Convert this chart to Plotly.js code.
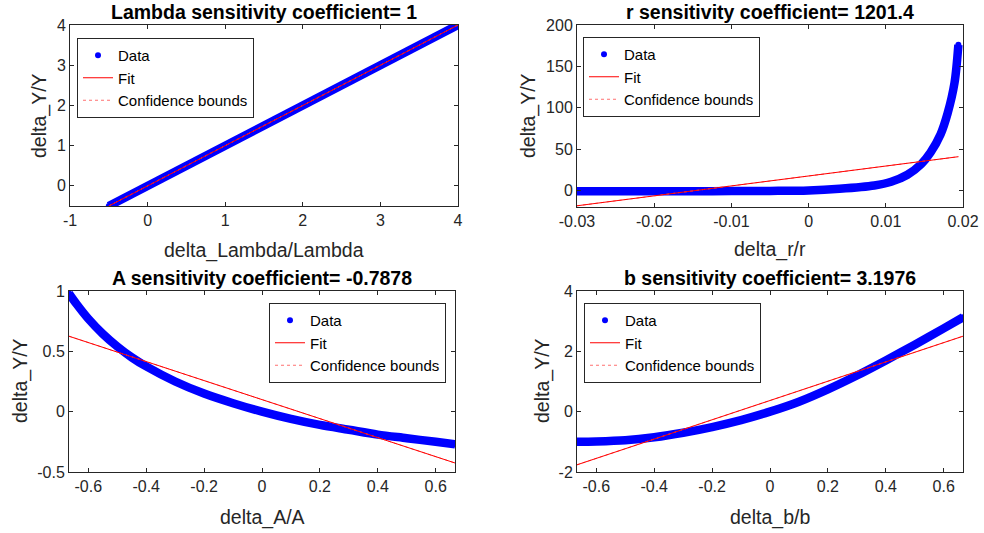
<!DOCTYPE html>
<html>
<head>
<meta charset="utf-8">
<script src="https://cdn.plot.ly/plotly-3.0.1.min.js"></script>
<style>
  html, body { margin: 0; padding: 0; background: #ffffff; }
  #chart { width: 984px; height: 533px; }
</style>
</head>
<body>
<div id="chart"></div>
<script>
// Relative parameter change (x) against relative change of the output Y (y)
const lambdaX = [-0.5, 0, 0.5, 1, 1.5, 2, 2.5, 3, 3.5, 4];
const lambdaY = [-0.5, 0, 0.5, 1, 1.5, 2, 2.5, 3, 3.5, 4];

const rX = [-0.03, -0.025, -0.02, -0.015, -0.01, -0.005, 0, 0.004, 0.0085, 0.0107, 0.0128, 0.0146, 0.0158, 0.0171, 0.018, 0.0189, 0.0194];
const rY = [-0.95, -0.93, -0.9, -0.85, -0.75, -0.55, 0, 2, 6, 10.5, 19, 32, 46, 68, 93, 130, 176];

const aX = [-0.667, -0.64, -0.6, -0.55, -0.5, -0.45, -0.4, -0.3, -0.2, -0.1, 0, 0.1, 0.2, 0.3, 0.4, 0.5, 0.6, 0.667];
const aY = [0.98, 0.89, 0.77, 0.645, 0.54, 0.45, 0.375, 0.25, 0.15, 0.07, 0, -0.06, -0.11, -0.15, -0.19, -0.22, -0.25, -0.27];

const bX = [-0.667, -0.6, -0.5, -0.4, -0.3, -0.2, -0.1, 0, 0.1, 0.2, 0.3, 0.4, 0.5, 0.6, 0.667];
const bY = [-1.0, -0.99, -0.95, -0.85, -0.70, -0.51, -0.28, 0, 0.33, 0.74, 1.20, 1.70, 2.22, 2.76, 3.13];

// Linear fits: slope = sensitivity coefficient, plus intercept
const slopes = [1, 1201.4, -0.7878, 3.1976];
const intercepts = [0, 17.5, 0.10, 0.37];

// Panel labels
const paramNames = ["Lambda", "r", "A", "b"];
const xLabels = ["delta_Lambda/Lambda", "delta_r/r", "delta_A/A", "delta_b/b"];
const yLabel = "delta_Y/Y";

// Axis ranges and ticks
const xRanges = [[-1, 4], [-0.03, 0.02], [-0.6667, 0.6667], [-0.6667, 0.6667]];
const yRanges = [[-0.5, 4], [-20, 200], [-0.5, 1], [-2, 4]];
const xTicks = [
  [-1, 0, 1, 2, 3, 4],
  [-0.03, -0.02, -0.01, 0, 0.01, 0.02],
  [-0.6, -0.4, -0.2, 0, 0.2, 0.4, 0.6],
  [-0.6, -0.4, -0.2, 0, 0.2, 0.4, 0.6]
];
const yTicks = [
  [0, 1, 2, 3, 4],
  [0, 50, 100, 150, 200],
  [-0.5, 0, 0.5, 1],
  [-2, 0, 2, 4]
];

const seriesX = [lambdaX, rX, aX, bX];
const seriesY = [lambdaY, rY, aY, bY];

// ---- page geometry (pixels of the 984 x 533 figure) ----
const W = 984, H = 533;
const px = v => v / W;
const py = v => 1 - v / H;
const boxes = [            // [left, right, top, bottom]
  [70, 458, 25, 206],
  [577, 963, 25, 207],
  [69, 455, 291, 472],
  [577, 963, 291, 472]
];
const legendPos = [[77, 38], [583, 37], [269, 303], [584, 303]];
const titlePos = [[264, 12], [770, 12], [262, 278], [770, 278]];
const xLabelPos = [[264, 250], [770, 249], [262, 517], [770, 517]];
const yLabelPos = [[39, 116], [528, 116], [20, 381], [542, 381]];

const FONT = "Liberation Sans, Arial, Helvetica, sans-serif";
const INK = "#262626";
const BLUE = "#0000ff";
const RED = "#ff0000";

const traces = [];
const layout = {
  width: W, height: H,
  margin: { l: 0, r: 0, t: 0, b: 0 },
  paper_bgcolor: "#ffffff",
  plot_bgcolor: "#ffffff",
  font: { family: FONT, color: INK, size: 16 },
  annotations: [],
  showlegend: true
};

for (let i = 0; i < 4; i++) {
  const n = i === 0 ? "" : String(i + 1);
  const xa = "x" + n, ya = "y" + n;
  const leg = "legend" + n;
  const xs = seriesX[i], ys = seriesY[i];

  // data: thick band through the points, with the points as dots on top
  traces.push({
    x: xs, y: ys, xaxis: xa, yaxis: ya, legend: leg,
    type: "scatter", mode: "lines",
    line: { color: BLUE, width: 8.5, shape: i === 0 ? "linear" : "spline", smoothing: 0.9 },
    showlegend: false, hoverinfo: "skip"
  });
  traces.push({
    x: xs, y: ys, xaxis: xa, yaxis: ya, legend: leg,
    type: "scatter", mode: "markers", name: "Data",
    marker: { color: BLUE, size: 6, symbol: "circle" },
    legendrank: 1
  });

  // linear fit across the data span
  const fx = [xs[0], xs[xs.length - 1]];
  const fy = fx.map(v => slopes[i] * v + intercepts[i]);
  traces.push({
    x: fx, y: fy, xaxis: xa, yaxis: ya, legend: leg,
    type: "scatter", mode: "lines", name: "Confidence bounds",
    line: { color: "#ff7070", width: 1, dash: "dot" }, legendrank: 3
  });
  traces.push({
    x: fx, y: fy, xaxis: xa, yaxis: ya, legend: leg,
    type: "scatter", mode: "lines", name: "Fit",
    line: { color: RED, width: 1 }, legendrank: 2
  });

  const [l, r, t, b] = boxes[i];
  const axisCommon = {
    showline: true, linecolor: INK, linewidth: 1, mirror: "ticks",
    ticks: "inside", ticklen: 4, tickwidth: 1, tickcolor: INK,
    showgrid: false, zeroline: false, fixedrange: true,
    tickfont: { family: FONT, size: 16, color: INK },
    tickmode: "array", automargin: false
  };
  layout["xaxis" + n] = Object.assign({}, axisCommon, {
    domain: [px(l), px(r)], anchor: ya, range: xRanges[i],
    tickvals: xTicks[i], ticktext: xTicks[i].map(String)
  });
  layout["yaxis" + n] = Object.assign({}, axisCommon, {
    domain: [py(b), py(t)], anchor: xa, range: yRanges[i],
    tickvals: yTicks[i], ticktext: yTicks[i].map(String)
  });

  layout[leg] = {
    x: px(legendPos[i][0]), y: py(legendPos[i][1]),
    xanchor: "left", yanchor: "top",
    bgcolor: "#ffffff", bordercolor: INK, borderwidth: 1,
    font: { family: FONT, size: 15, color: "#000000" },
    traceorder: "normal", tracegroupgap: 0
  };

  const coef = String(slopes[i]);
  layout.annotations.push({
    xref: "paper", yref: "paper", x: px(titlePos[i][0]), y: py(titlePos[i][1]),
    xanchor: "center", yanchor: "middle", showarrow: false,
    text: paramNames[i] + " sensitivity coefficient= " + coef,
    font: { family: FONT, size: 19.5, color: "#000000", weight: "bold" }
  });
  layout.annotations.push({
    xref: "paper", yref: "paper", x: px(xLabelPos[i][0]), y: py(xLabelPos[i][1]),
    xanchor: "center", yanchor: "middle", showarrow: false,
    text: xLabels[i],
    font: { family: FONT, size: 19.5, color: INK }
  });
  layout.annotations.push({
    xref: "paper", yref: "paper", x: px(yLabelPos[i][0]), y: py(yLabelPos[i][1]),
    xanchor: "center", yanchor: "middle", showarrow: false, textangle: -90,
    text: yLabel,
    font: { family: FONT, size: 19.5, color: INK }
  });
}

Plotly.newPlot("chart", traces, layout, { displayModeBar: false, staticPlot: true });
</script>
</body>
</html>
